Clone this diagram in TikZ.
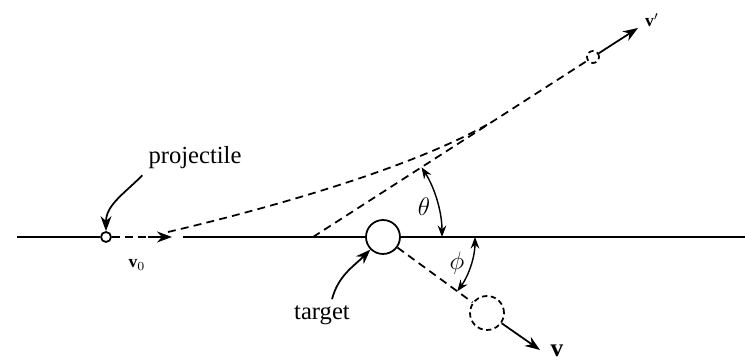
\documentclass[tikz,border=0pt]{standalone}
\usepackage{fontspec}
\setmainfont{Liberation Serif}
\usetikzlibrary{arrows.meta}

\begin{document}
\begin{tikzpicture}[
        x=0.02cm, y=0.02cm,
        ball/.style={circle, draw, inner sep=0pt, line width=1pt},
        ghost/.style={ball, dash pattern=on 3pt off 2pt},
        track/.style={dash pattern=on 4.5pt off 3pt, line width=1pt},
        axis/.style={line width=0.9pt},
        arrow/.style={-{Stealth[length=3mm, width=2.2mm]}, line width=1pt},
        angarrow/.style={{Stealth[length=2.3mm]}-{Stealth[length=2.3mm]}, line width=0.8pt},
        lbl/.style={font=\fontsize{14}{16}\selectfont}
    ]
        \useasboundingbox (0,0) rectangle (745,361);

        \node[ball, minimum size=0.2cm] (proj) at (106,124) {};
        \node[ball, minimum size=0.68cm] (targ) at (383,124) {};
        \node[ghost, minimum size=0.24cm] (projout) at (593,304) {};
        \node[ghost, minimum size=0.68cm] (targout) at (487,48) {};

        \coordinate (lineL) at (17,124);
        \coordinate (tipbase) at (148,124);
        \coordinate (gapA) at (172,124);
        \coordinate (gapB) at (183,124);
        \coordinate (lineR) at (745,124);
        \coordinate (curveA) at (168,129);
        \coordinate (asym) at (313,124);
        \coordinate (join) at (490,238);
        \coordinate (vpend) at (638,333);
        \coordinate (vend) at (540,11);

        % axis
        \draw[axis] (lineL) -- (proj.west);
        \draw[axis] (gapB) -- (targ.west);
        \draw[axis] (targ.east) -- (lineR);

        % paths
        \draw[track] (proj.east) -- (tipbase);
        \draw[arrow] (tipbase) -- (gapA);
        \draw[track] (curveA) .. controls (266,152) and (410,192) .. (join);
        \draw[track] (asym) -- (projout);
        \draw[track] (targ) -- (targout);
        \draw[arrow] (projout) -- (vpend);
        \draw[arrow] (targout) -- (vend);

        % angles
        \draw[angarrow] (asym) ++(0:129) arc[start angle=0, end angle=32.7, radius=129];
        \draw[angarrow] (targ) ++(0:92) arc[start angle=0, end angle=-36.2, radius=92];
        \node[lbl] (theta) at (424,154) {$\theta$};
        \node[lbl] (phi) at (457,98) {$\phi$};

        % labels
        \node[lbl] (projlbl) at (195,203) {projectile};
        \node[lbl] (targlbl) at (322,46) {target};
        \node[font=\normalsize] (v0lbl) at (137,96) {$\mathbf{v}_0$};
        \node[font=\normalsize] (vplbl) at (652,341) {$\mathbf{v}'$};
        \node[font=\Large] (vlbl) at (557,10) {$\mathbf{v}$};

        \draw[arrow] (projlbl.south west) to[out=-135, in=90] (proj.north);
        \draw[arrow] ([xshift=0.2cm]targlbl.north) to[out=75, in=-135] (targ.south west);
    \end{tikzpicture}
\end{document}
